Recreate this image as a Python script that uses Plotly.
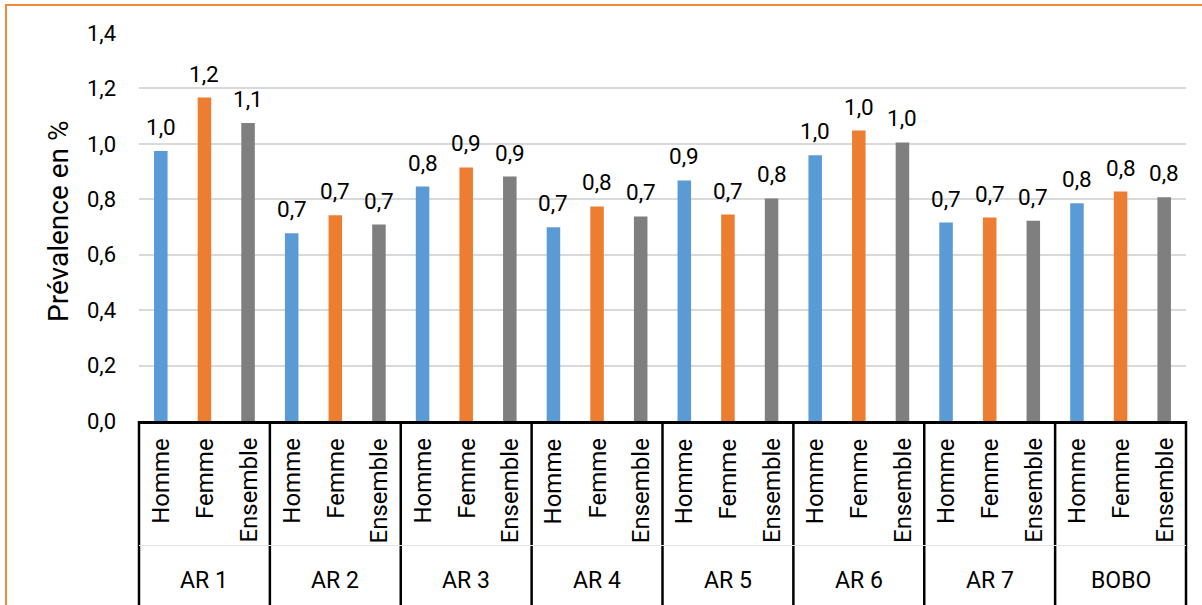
import plotly.graph_objects as go

groups = ["AR 1", "AR 2", "AR 3", "AR 4", "AR 5", "AR 6", "AR 7", "BOBO"]
sexes = ["Homme", "Femme", "Ensemble"]
homme = [0.974, 0.677, 0.846, 0.699, 0.868, 0.959, 0.716, 0.786]
femme = [1.167, 0.742, 0.915, 0.774, 0.745, 1.048, 0.734, 0.828]
ensemble = [1.075, 0.709, 0.882, 0.738, 0.803, 1.005, 0.723, 0.807]
colors = ["#5B9BD5", "#ED7D31", "#7F7F7F"]
y_ticks = [0.0, 0.2, 0.4, 0.6, 0.8, 1.0, 1.2, 1.4]

series = [homme, femme, ensemble]
n_sub = len(sexes)
n_grp = len(groups)

W, H = 1202, 605
ML, MR, MT, MB = 139, 16, 33, 184
PW = W - ML - MR
PH = H - MT - MB


def py2paper(py):
    return (H - MB - py) / PH


def px2paper(px):
    return (px - ML) / PW


FONT = "Roboto"
fig = go.Figure()
annotations = []

for k, (name, vals, col) in enumerate(zip(sexes, series, colors)):
    xs = [g * n_sub + k for g in range(n_grp)]
    fig.add_trace(go.Bar(x=xs, y=vals, name=name, width=0.31,
                         marker=dict(color=col, line=dict(width=0)),
                         showlegend=False, hoverinfo="y"))
    for x, v in zip(xs, vals):
        annotations.append(dict(x=x, y=v, xref="x", yref="y",
                                text=f"{v:.1f}".replace(".", ","),
                                showarrow=False, yanchor="bottom", yshift=9,
                                font=dict(family=FONT, size=22.5, color="#000000")))
        annotations.append(dict(x=x, y=py2paper(436), xref="x", yref="paper",
                                text=name, textangle=-90, showarrow=False,
                                yanchor="top", xanchor="center",
                                font=dict(family=FONT, size=24, color="#000000")))

for g, gname in enumerate(groups):
    annotations.append(dict(x=g * n_sub + (n_sub - 1) / 2, y=py2paper(580),
                            xref="x", yref="paper", text=gname, showarrow=False,
                            yanchor="middle", xanchor="center",
                            font=dict(family=FONT, size=23, color="#000000")))

annotations.append(dict(x=px2paper(58), y=py2paper(222), xref="paper", yref="paper",
                        text="Prévalence en %", textangle=-90, showarrow=False,
                        xanchor="center", yanchor="middle",
                        font=dict(family=FONT, size=28, color="#000000")))

shapes = []
for g in range(n_grp + 1):
    shapes.append(dict(type="line", xref="paper", yref="paper",
                       x0=g / n_grp, x1=g / n_grp, y0=0, y1=py2paper(640),
                       line=dict(color="#000000", width=2.5)))
shapes.append(dict(type="line", xref="paper", yref="paper", x0=0, x1=1,
                   y0=py2paper(545.5), y1=py2paper(545.5),
                   line=dict(color="#E3E3E3", width=1)))
shapes.append(dict(type="rect", xref="paper", yref="paper",
                   x0=px2paper(6), x1=px2paper(1230), y0=py2paper(640), y1=py2paper(5),
                   line=dict(color="#F0883E", width=2), fillcolor="rgba(0,0,0,0)"))

fig.update_layout(
    width=W, height=H,
    margin=dict(l=ML, r=MR, t=MT, b=MB, pad=0),
    paper_bgcolor="white", plot_bgcolor="white",
    barmode="overlay",
    separators=", ",
    annotations=annotations,
    shapes=shapes,
    xaxis=dict(range=[-0.5, n_grp * n_sub - 0.5], showticklabels=False, ticks="",
               showgrid=False, zeroline=False, showline=True, linecolor="#000000",
               linewidth=3, fixedrange=True),
    yaxis=dict(range=[0, 1.4], tickvals=y_ticks, tickformat=".1f", showgrid=True,
               gridcolor="#D9D9D9", gridwidth=1.5, zeroline=False, showline=False,
               ticks="", ticklabelstandoff=22,
               tickfont=dict(family=FONT, size=22, color="#000000")),
)

fig.write_html("out.html", config={"displayModeBar": False},
               post_script="document.body.style.margin='0';document.body.style.overflow='hidden';")
